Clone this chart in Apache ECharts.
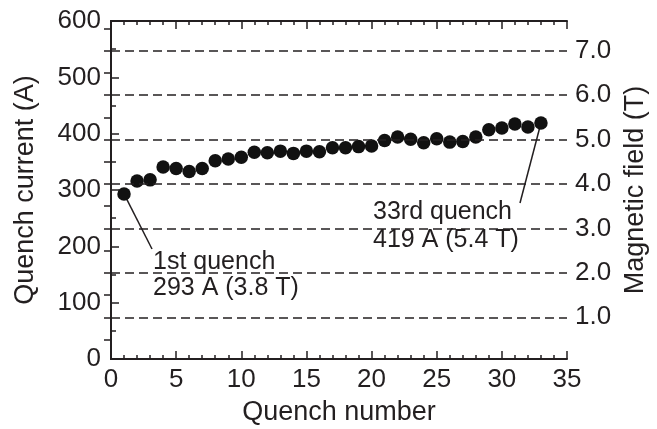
<!DOCTYPE html>
<html>
<head>
<meta charset="utf-8">
<script src="https://cdn.jsdelivr.net/npm/echarts@6/dist/echarts.min.js"></script>
<style>
  html, body { margin: 0; padding: 0; background: #fff; }
  #main { width: 657px; height: 429px; }
</style>
</head>
<body>
<div id="main"></div>
<script>
// quench test data
var quenchNo = [1, 2, 3, 4, 5, 6, 7, 8, 9, 10, 11, 12, 13, 14, 15, 16, 17,
                18, 19, 20, 21, 22, 23, 24, 25, 26, 27, 28, 29, 30, 31, 32, 33];
var quenchCurrent = [293, 316, 318, 341, 338, 333, 338, 352, 355, 358, 367, 366, 369, 365, 369, 368, 375,
                     375, 377, 378, 388, 394, 390, 384, 391, 385, 386, 394, 407, 410, 417, 412, 419];
var fieldLabels = [1, 2, 3, 4, 5, 6, 7];
var fieldTicks = [0.5, 1, 1.5, 2, 2.5, 3, 3.5, 4, 4.5, 5, 5.5, 6, 6.5, 7, 7.5];
var fieldMin = 0.062, fieldMax = 7.667;   // field axis range matching 0-600 A

var ink = '#231f20';
var font = 'Liberation Sans, Arial, sans-serif';

var myChart = echarts.init(document.getElementById('main'));
var option = {
    animation: false,
    grid: { left: 111, right: 90, top: 21, bottom: 70, outerBoundsMode: 'none' },
    xAxis: [
        {
            type: 'value', min: 0, max: 35, interval: 5,
            name: 'Quench number', nameLocation: 'middle', nameGap: 40,
            nameTextStyle: { color: ink, fontSize: 27, fontFamily: font },
            axisLine: { lineStyle: { color: ink, width: 2 } },
            axisTick: { inside: true, length: 8, lineStyle: { color: ink, width: 1.5 } },
            minorTick: { show: true, splitNumber: 5, length: 4, lineStyle: { color: ink, width: 1.5 } },
            axisLabel: { color: ink, fontSize: 26, fontFamily: font, margin: 8 },
            splitLine: { show: false }
        },
        {
            type: 'value', min: 0, max: 35, interval: 5, position: 'top',
            axisLine: { lineStyle: { color: ink, width: 2 } },
            axisTick: { inside: true, length: 8, lineStyle: { color: ink, width: 1.5 } },
            minorTick: { show: true, splitNumber: 5, length: 4, lineStyle: { color: ink, width: 1.5 } },
            axisLabel: { show: false },
            splitLine: { show: false }
        }
    ],
    yAxis: [
        {
            type: 'value', min: 0, max: 600, interval: 100,
            name: 'Quench current (A)', nameLocation: 'middle', nameGap: 72,
            nameTextStyle: { color: ink, fontSize: 27, fontFamily: font },
            axisLine: { show: true, lineStyle: { color: ink, width: 2 } },
            axisTick: { show: true, inside: true, length: 8, lineStyle: { color: ink, width: 1.5 } },
            minorTick: { show: true, splitNumber: 2, length: 5, lineStyle: { color: ink, width: 1.5 } },
            axisLabel: { color: ink, fontSize: 26, fontFamily: font, margin: 10 },
            splitLine: { show: false }
        },
        {
            type: 'value', min: fieldMin, max: fieldMax, position: 'right',
            name: 'Magnetic field (T)', nameLocation: 'middle', nameGap: 50, nameRotate: 90,
            nameTextStyle: { color: ink, fontSize: 27, fontFamily: font },
            axisLine: { show: true, lineStyle: { color: ink, width: 2 } },
            axisTick: { show: true, inside: true, length: 7, customValues: fieldTicks,
                        lineStyle: { color: ink, width: 1.5 } },
            axisLabel: { color: ink, fontSize: 26, fontFamily: font, margin: 8,
                         customValues: fieldLabels,
                         formatter: function (v) { return v.toFixed(1); } },
            splitLine: { show: false }
        }
    ],
    series: [
        {
            // dashed field gridlines
            type: 'line', yAxisIndex: 1, data: [], silent: true,
            markLine: {
                silent: true, symbol: 'none',
                label: { show: false },
                lineStyle: { color: ink, type: [9, 5], width: 1.6 },
                data: fieldLabels.map(function (t) { return { yAxis: t }; })
            }
        },
        {
            type: 'scatter',
            symbol: 'circle',
            symbolSize: 13.5,
            itemStyle: { color: '#111', opacity: 1 },
            data: quenchNo.map(function (n, i) { return [n, quenchCurrent[i]]; })
        }
    ]
};
myChart.setOption(option);

// callouts for 1st and 33rd quench
var p1 = myChart.convertToPixel({ seriesIndex: 1 }, [quenchNo[0], quenchCurrent[0]]);
var p33 = myChart.convertToPixel({ seriesIndex: 1 }, [quenchNo[32], quenchCurrent[32]]);
var txt = { fill: ink, fontSize: 25, fontFamily: font, textVerticalAlign: 'middle' };
myChart.setOption({
    graphic: [
        { type: 'line', shape: { x1: p1[0], y1: p1[1], x2: 152, y2: 249 }, style: { stroke: ink, lineWidth: 1.5 } },
        { type: 'text', left: 153, top: 250, style: Object.assign({ text: '1st quench' }, txt) },
        { type: 'text', left: 153, top: 276, style: Object.assign({ text: '293 A (3.8 T)' }, txt) },
        { type: 'line', shape: { x1: p33[0], y1: p33[1], x2: 520, y2: 203 }, style: { stroke: ink, lineWidth: 1.5 } },
        { type: 'text', left: 373, top: 200, style: Object.assign({ text: '33rd quench' }, txt) },
        { type: 'text', left: 373, top: 228, style: Object.assign({ text: '419 A (5.4 T)' }, txt) }
    ]
});
</script>
</body>
</html>
